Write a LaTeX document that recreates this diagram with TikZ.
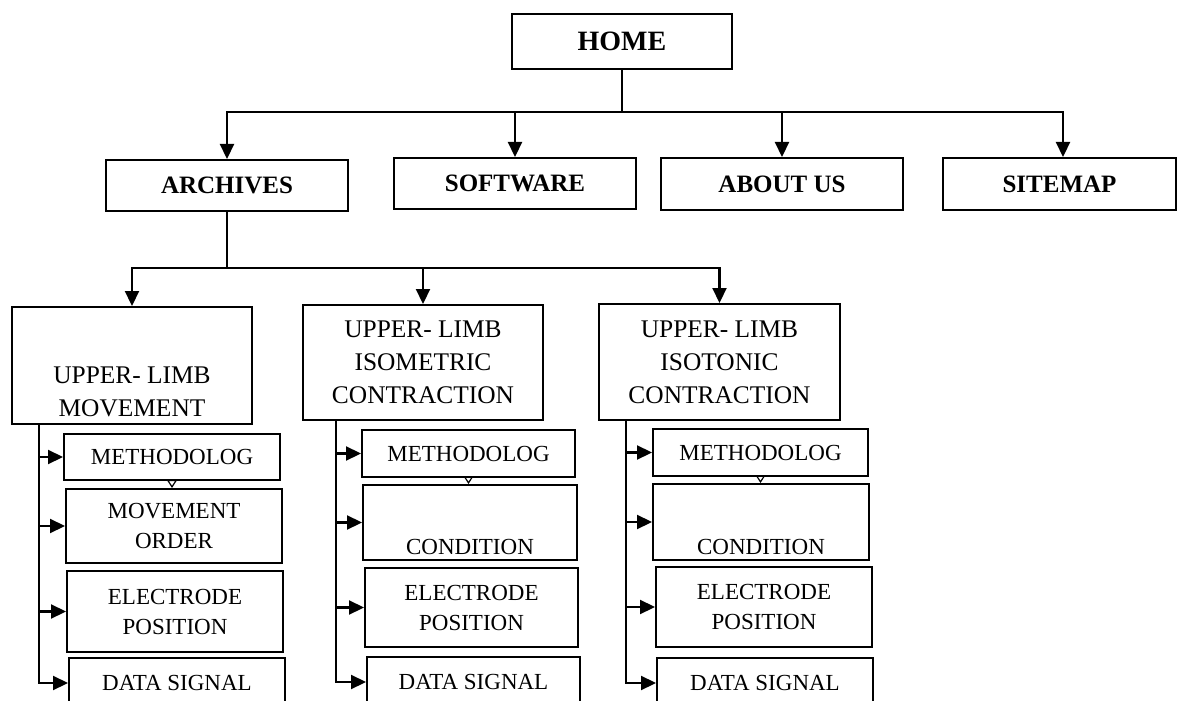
\documentclass[tikz,border=0pt]{standalone}
\usepackage{fontspec}
\setmainfont{Liberation Serif}
\usetikzlibrary{arrows.meta}
\newcommand{\lowtext}[2]{\raisebox{-#1}[0pt][0pt]{\begin{tabular}{@{}c@{}}#2\end{tabular}}}
\begin{document}
\begin{tikzpicture}[x=0.5pt,y=-0.5pt,
 box/.style={draw=black, line width=1pt, inner sep=0pt, align=center},
 topbox/.style={box, font={\fontsize{12.5}{15}\selectfont\bfseries}, minimum width=121pt, minimum height=25.5pt},
 midbox/.style={box, font={\fontsize{12.7}{16.5}\selectfont}, minimum width=120pt},
 leafbox/.style={box, font={\fontsize{11.5}{15}\selectfont}, minimum width=108pt},
 link/.style={line width=1.1pt, draw=black},
 arr/.style={link, -{Triangle[length=7.5pt,width=7pt]}},
 vtip/.style={line width=0.6pt, -{Triangle[open,length=4pt,width=5pt]}}
]
\useasboundingbox (0,0) rectangle (1179,701);
\fill[white] (0,0) rectangle (1179,701);
\clip (0,0) rectangle (1179,701);

% level 0
\node[box, font={\fontsize{14}{16}\selectfont\bfseries}, minimum width=110pt, minimum height=27.5pt] (home) at (622,41.5) {HOME};

% level 1
\node[topbox] (arch) at (227,185.5) {ARCHIVES};
\node[topbox] (soft) at (515,183.5) {SOFTWARE};
\node[topbox, minimum height=26pt] (about) at (782,184) {ABOUT US};
\node[topbox, minimum width=116.5pt, minimum height=26pt] (site) at (1059.5,184) {SITEMAP};

\coordinate (bus1) at (622,112);
\draw[link] (home.south) -- (bus1);
\draw[arr] (bus1) -| (arch.north);
\draw[arr] (bus1) -| (soft.north);
\draw[arr] (bus1) -| (about.north);
\draw[arr] (bus1) -| ([xshift=1.75pt]site.north);

% level 2
\node[midbox, minimum height=58.5pt] (ulm) at (132,365.5) {\lowtext{17pt}{UPPER- LIMB\\MOVEMENT}};
\node[midbox, minimum height=57.5pt] (ism) at (423,362.5) {UPPER- LIMB\\ISOMETRIC\\CONTRACTION};
\node[midbox, minimum width=120.5pt, minimum height=58pt] (ist) at (719.5,362) {UPPER- LIMB\\ISOTONIC\\CONTRACTION};

\coordinate (bus2) at (227,268);
\draw[link] (arch.south) -- (bus2);
\draw[arr] (bus2) -| (ulm.north);
\draw[arr] (bus2) -| (ism.north);
\draw[arr] (bus2) -| (ist.north);

% level 3, column 1
\node[leafbox, minimum height=23pt] (m1) at (172,457) {METHODOLOG};
\node[leafbox, minimum height=37pt] (o1) at (174,526) {MOVEMENT\\ORDER};
\node[leafbox, minimum height=40.5pt] (e1) at (175,611.5) {ELECTRODE\\POSITION};
\node[leafbox, minimum height=25pt] (d1) at (177,683) {DATA SIGNAL};

% level 3, column 2
\node[leafbox, minimum width=106.5pt, minimum height=23.5pt] (m2) at (468.5,453.5) {METHODOLOG};
\node[leafbox, minimum width=107pt, minimum height=37.5pt] (c2) at (470,522.5) {\lowtext{16.2pt}{CONDITION}};
\node[leafbox, minimum width=106.5pt, minimum height=39.5pt] (e2) at (471.5,607.5) {ELECTRODE\\POSITION};
\node[leafbox, minimum width=106.5pt, minimum height=25pt] (d2) at (473.5,682) {DATA SIGNAL};

% level 3, column 3
\node[leafbox, minimum width=107.5pt, minimum height=23.5pt] (m3) at (760.5,452.5) {METHODOLOG};
\node[leafbox, minimum height=38pt] (c3) at (761,522) {\lowtext{16.2pt}{CONDITION}};
\node[leafbox, minimum height=40pt] (e3) at (764,607) {ELECTRODE\\POSITION};
\node[leafbox, minimum height=25pt] (d3) at (765,683) {DATA SIGNAL};

% spines
\coordinate (s1) at ([xshift=14pt]ulm.south west);
\coordinate (s2) at ([xshift=17pt]ism.south west);
\coordinate (s3) at ([xshift=14pt]ist.south west);
\foreach \n in {m1,o1,e1,d1} \draw[arr] (s1) |- (\n.west);
\foreach \n in {m2,c2,e2,d2} \draw[arr] (s2) |- (\n.west);
\foreach \n in {m3,c3,e3,d3} \draw[arr] (s3) |- (\n.west);

% small tips between first boxes
\draw[vtip] (m1.south) -- (m1.south |- o1.north);
\draw[vtip] (m2.south) -- (m2.south |- c2.north);
\draw[vtip] (m3.south) -- (m3.south |- c3.north);
\end{tikzpicture}
\end{document}
